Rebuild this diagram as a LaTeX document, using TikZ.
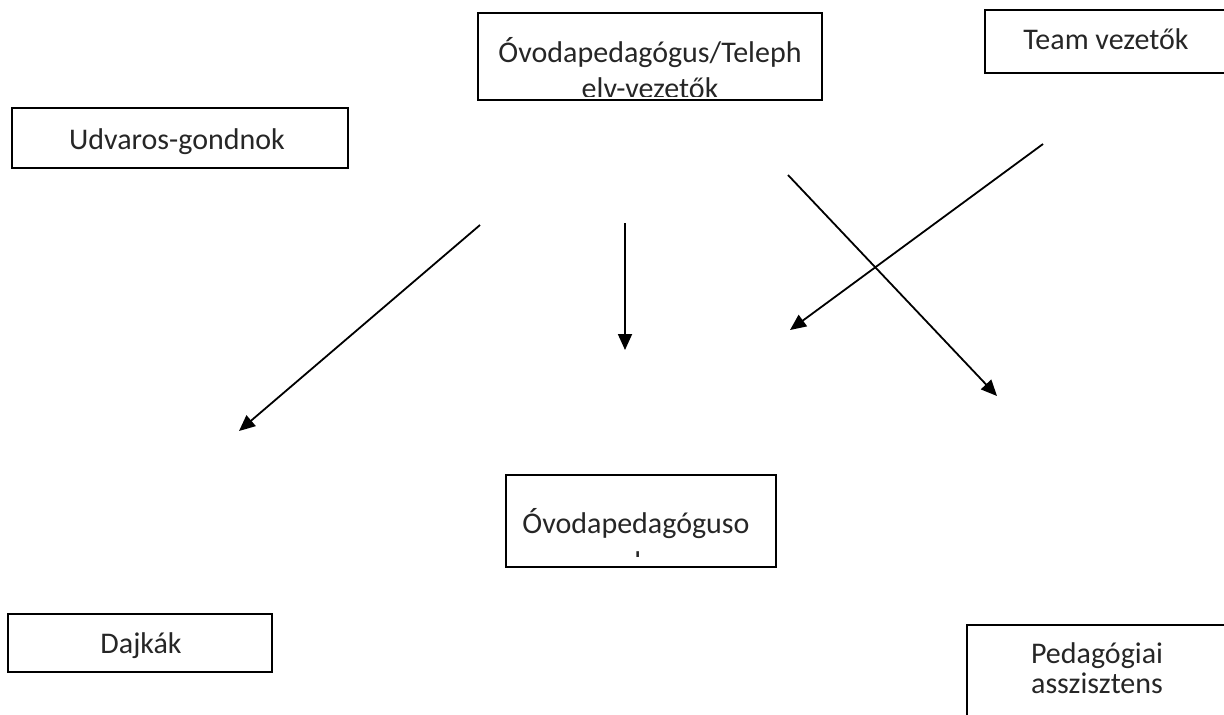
\documentclass[tikz,border=0pt]{standalone}
\usepackage{fontspec}
\setmainfont{Carlito}
\usetikzlibrary{arrows.meta}
\begin{document}
\begin{tikzpicture}[x=0.5pt, y=-0.5pt,
        box/.style={draw, line width=1pt, inner sep=0pt},
        boxtext/.style={anchor=base, inner sep=0pt, text=black!85, font=\fontsize{15}{16}\selectfont},
        flow/.style={line width=0.9pt, -{Triangle[length=8pt, width=7pt]}}]
    \useasboundingbox (0,0) rectangle (1224,714);

    % boxes
    \node[box, minimum width=172pt, minimum height=43.5pt] (lead) at (650,56.5) {};
    \node[box, minimum width=121pt, minimum height=31.5pt] (team) at (1106,41.5) {};
    \node[box, minimum width=168pt, minimum height=30pt] (gondnok) at (180,138) {};
    \node[box, minimum width=135pt, minimum height=46pt] (ovoda) at (641,521) {};
    \node[box, minimum width=132pt, minimum height=29pt] (dajka) at (140,643) {};
    \node[box, minimum width=130pt, minimum height=70pt] (asszisztens) at (1097,695) {};

    % texts
    \node[boxtext] (teamtext) at (1106,49) {Team vezetők};
    \node[boxtext] (gondnoktext) at (177,149) {Udvaros-gondnok};
    \node[boxtext] (dajkatext) at (141,653) {Dajkák};
    \node[boxtext] (asszisztens1) at (1097,663) {Pedagógiai};
    \node[boxtext] (asszisztens2) at (1097,693) {asszisztens};
    \begin{scope}
        \clip (lead.north west) rectangle ([yshift=2.5pt]lead.south east);
        \node[boxtext] (lead1) at (650,62) {Óvodapedagógus/Teleph};
        \node[boxtext] (lead2) at (650,98) {elv-vezetők};
    \end{scope}
    \begin{scope}
        \clip (ovoda.north west) rectangle ([yshift=6pt]ovoda.south east);
        \node[boxtext] (ovoda1) at (636,533) {Óvodapedagóguso};
        \node[boxtext] (ovoda2) at (641.5,572) {k};
    \end{scope}

    % arrows
    \coordinate (left0) at (480,225);
    \coordinate (left1) at (239,431);
    \coordinate (down0) at (625,223);
    \coordinate (down1) at (625,350);
    \coordinate (cross0) at (1043,144);
    \coordinate (cross1) at (790,330);
    \coordinate (right0) at (788,175);
    \coordinate (right1) at (997,396);
    \draw[flow] (left0) -- (left1);
    \draw[flow] (down0) -- (down1);
    \draw[flow] (cross0) -- (cross1);
    \draw[flow] (right0) -- (right1);
\end{tikzpicture}
\end{document}
